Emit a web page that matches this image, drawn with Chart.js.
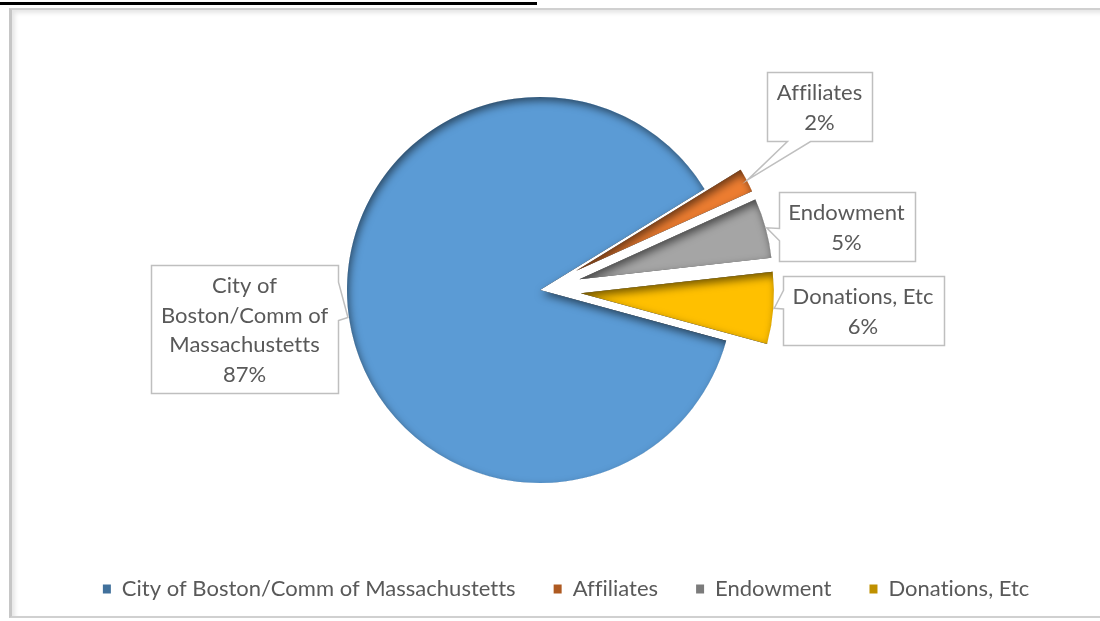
<!DOCTYPE html>
<html>
<head>
<meta charset="utf-8">
<title>Funding sources</title>
<script src="https://cdn.jsdelivr.net/npm/chart.js@4.4.0/dist/chart.umd.min.js"></script>
<style>
    html, body { margin: 0; padding: 0; background: #fff; }
    #wrap { position: relative; width: 1100px; height: 621px; overflow: hidden; }
    #titleRule { position: absolute; left: 0; top: 2px; width: 537px; height: 3px; background: #000; }
    #frame {
        position: absolute; left: 9px; top: 8px; width: 1100px; height: 606px;
        border-left: 3px solid #c6c6c6; border-top: 2px solid #d0d0d0; border-bottom: 2px solid #d0d0d0;
        box-shadow: inset 3px 3px 4px rgba(0, 0, 0, 0.10);
    }
    #chart { position: absolute; left: 0; top: 0; }
</style>
</head>
<body>
<div id="wrap">
    <div id="titleRule"></div>
    <div id="frame"></div>
    <canvas id="chart" width="1100" height="621"></canvas>
</div>
<script>
"use strict";

// Chart data
var categories = ['City of Boston/Comm of Massachustetts', 'Affiliates', 'Endowment', 'Donations, Etc'];
var sharePercent = [87, 2, 5, 6];
var sliceColors = ['#5B9BD5', '#ED7D31', '#A5A5A5', '#FFC000'];
var legendSwatchColors = ['#41719C', '#AE5A21', '#7B7B7B', '#BF9000'];

// Pulled-out slices (px along each slice's middle angle)
var explodeDistance = [0, 41, 41, 41];

// Callout boxes: centre of the box, wrap width, which side the pointer leaves from
var calloutStyle = [
    { cx: 244.5, cy: 329, wrap: 175, side: 'right', base: [0.13, 0.43] },
    { cx: 819.5, cy: 106, wrap: 200, side: 'bottom', base: [0.19, 0.41] },
    { cx: 846.5, cy: 226, wrap: 200, side: 'left', base: [0.52, 0.70] },
    { cx: 863, cy: 310.5, wrap: 200, side: 'left', base: [0.20, 0.47] }
];

var textColor = '#595959';
var fontFamily = 'Lato, "Open Sans", sans-serif';

Chart.defaults.font.family = fontFamily;
Chart.defaults.color = textColor;

// A tiny letter spacing keeps the canvas from joining "fi" into a ligature
var noLigatures = {
    id: 'noLigatures',
    beforeDraw: function (chart) {
        chart.ctx.letterSpacing = '0.01px';
    }
};

// Move the slices outwards, like an exploded Excel pie
var explodeSlices = {
    id: 'explodeSlices',
    afterDatasetsUpdate: function (chart) {
        chart.getDatasetMeta(0).data.forEach(function (arc, i) {
            var d = explodeDistance[i] || 0;
            var mid = (arc.startAngle + arc.endAngle) / 2;
            arc.x += Math.cos(mid) * d;
            arc.y += Math.sin(mid) * d;
        });
    }
};

// Legend is centred on the whole width, the pie a little to the left of it
var shiftPlotArea = {
    id: 'shiftPlotArea',
    afterLayout: function (chart) {
        chart.chartArea.right -= 50;
        chart.chartArea.width -= 50;
    }
};

// Soft inner shadow on the upper-left edges of every slice
var innerShadow = {
    id: 'innerShadow',
    afterDatasetsDraw: function (chart) {
        var ctx = chart.ctx;
        chart.getDatasetMeta(0).data.forEach(function (arc) {
            ctx.save();
            ctx.beginPath();
            ctx.moveTo(arc.x, arc.y);
            ctx.arc(arc.x, arc.y, arc.outerRadius, arc.startAngle, arc.endAngle);
            ctx.closePath();
            ctx.clip();

            ctx.beginPath();
            ctx.rect(arc.x - 1500, arc.y - 1500, 3000, 3000);
            ctx.moveTo(arc.x, arc.y);
            ctx.arc(arc.x, arc.y, arc.outerRadius + 0.5, arc.startAngle, arc.endAngle);
            ctx.closePath();
            ctx.shadowColor = 'rgba(0, 0, 0, 0.55)';
            ctx.shadowBlur = 9;
            ctx.shadowOffsetX = 2;
            ctx.shadowOffsetY = 4;
            ctx.fillStyle = '#000';
            ctx.fill('evenodd');
            ctx.restore();
        });
    }
};

function wrapText(ctx, text, maxWidth) {
    var words = text.split(' ');
    var lines = [];
    var line = '';
    words.forEach(function (w) {
        var test = line ? line + ' ' + w : w;
        if (line && ctx.measureText(test).width > maxWidth) {
            lines.push(line);
            line = w;
        } else {
            line = test;
        }
    });
    if (line) {
        lines.push(line);
    }
    return lines;
}

// Excel-like callout data labels
var calloutLabels = {
    id: 'calloutLabels',
    afterDraw: function (chart) {
        var ctx = chart.ctx;
        var values = chart.data.datasets[0].data;
        var total = values.reduce(function (a, b) { return a + b; }, 0);
        var lineHeight = 29.5;
        var padX = 10;
        var padY = 5;

        chart.getDatasetMeta(0).data.forEach(function (arc, i) {
            var style = calloutStyle[i];
            ctx.save();
            ctx.font = '22px ' + fontFamily;
            ctx.letterSpacing = '0.01px';
            var lines = wrapText(ctx, chart.data.labels[i], style.wrap);
            lines.push(Math.round(values[i] / total * 100) + '%');

            var textW = Math.max.apply(null, lines.map(function (l) { return ctx.measureText(l).width; }));
            var w = Math.round(textW + padX * 2);
            var h = Math.round(lines.length * lineHeight + padY * 2);
            var l = Math.round(style.cx - w / 2) + 0.5;
            var t = Math.round(style.cy - h / 2) + 0.5;

            var mid = (arc.startAngle + arc.endAngle) / 2;
            var tip = {
                x: arc.x + Math.cos(mid) * (arc.outerRadius + 1),
                y: arc.y + Math.sin(mid) * (arc.outerRadius + 1)
            };
            var b0 = style.base[0];
            var b1 = style.base[1];

            ctx.beginPath();
            ctx.moveTo(l, t);
            ctx.lineTo(l + w, t);
            if (style.side === 'right') {
                ctx.lineTo(l + w, t + h * b0);
                ctx.lineTo(tip.x, tip.y);
                ctx.lineTo(l + w, t + h * b1);
            }
            ctx.lineTo(l + w, t + h);
            if (style.side === 'bottom') {
                ctx.lineTo(l + w * b1, t + h);
                ctx.lineTo(tip.x, tip.y);
                ctx.lineTo(l + w * b0, t + h);
            }
            ctx.lineTo(l, t + h);
            if (style.side === 'left') {
                ctx.lineTo(l, t + h * b1);
                ctx.lineTo(tip.x, tip.y);
                ctx.lineTo(l, t + h * b0);
            }
            ctx.closePath();
            ctx.fillStyle = '#ffffff';
            ctx.fill();
            ctx.lineWidth = 1.5;
            ctx.strokeStyle = '#bfbfbf';
            ctx.lineJoin = 'miter';
            ctx.stroke();

            ctx.fillStyle = textColor;
            ctx.textAlign = 'center';
            ctx.textBaseline = 'middle';
            lines.forEach(function (txt, k) {
                ctx.fillText(txt, style.cx, t + padY + lineHeight * (k + 0.5) + 1);
            });
            ctx.restore();
        });
    }
};

var config = {
    type: 'pie',
    data: {
        labels: categories,
        datasets: [{
            data: sharePercent,
            backgroundColor: sliceColors,
            borderWidth: 0,
            radius: 193
        }]
    },
    options: {
        responsive: false,
        animation: false,
        events: [],
        rotation: 105.25,
        layout: {
            padding: { left: 30, right: 0, top: 40, bottom: 11 }
        },
        plugins: {
            legend: {
                position: 'bottom',
                labels: {
                    boxWidth: 8,
                    boxHeight: 9,
                    padding: 38,
                    color: textColor,
                    font: { size: 22 },
                    generateLabels: function (chart) {
                        var items = Chart.overrides.pie.plugins.legend.labels.generateLabels(chart);
                        items.forEach(function (item, i) {
                            item.fillStyle = legendSwatchColors[i];
                            item.strokeStyle = legendSwatchColors[i];
                            item.lineWidth = 0;
                        });
                        return items;
                    }
                }
            },
            tooltip: { enabled: false }
        }
    },
    plugins: [noLigatures, shiftPlotArea, explodeSlices, innerShadow, calloutLabels]
};

var ctx = document.getElementById('chart').getContext('2d');
var fundingChart = new Chart(ctx, config);
</script>
</body>
</html>
